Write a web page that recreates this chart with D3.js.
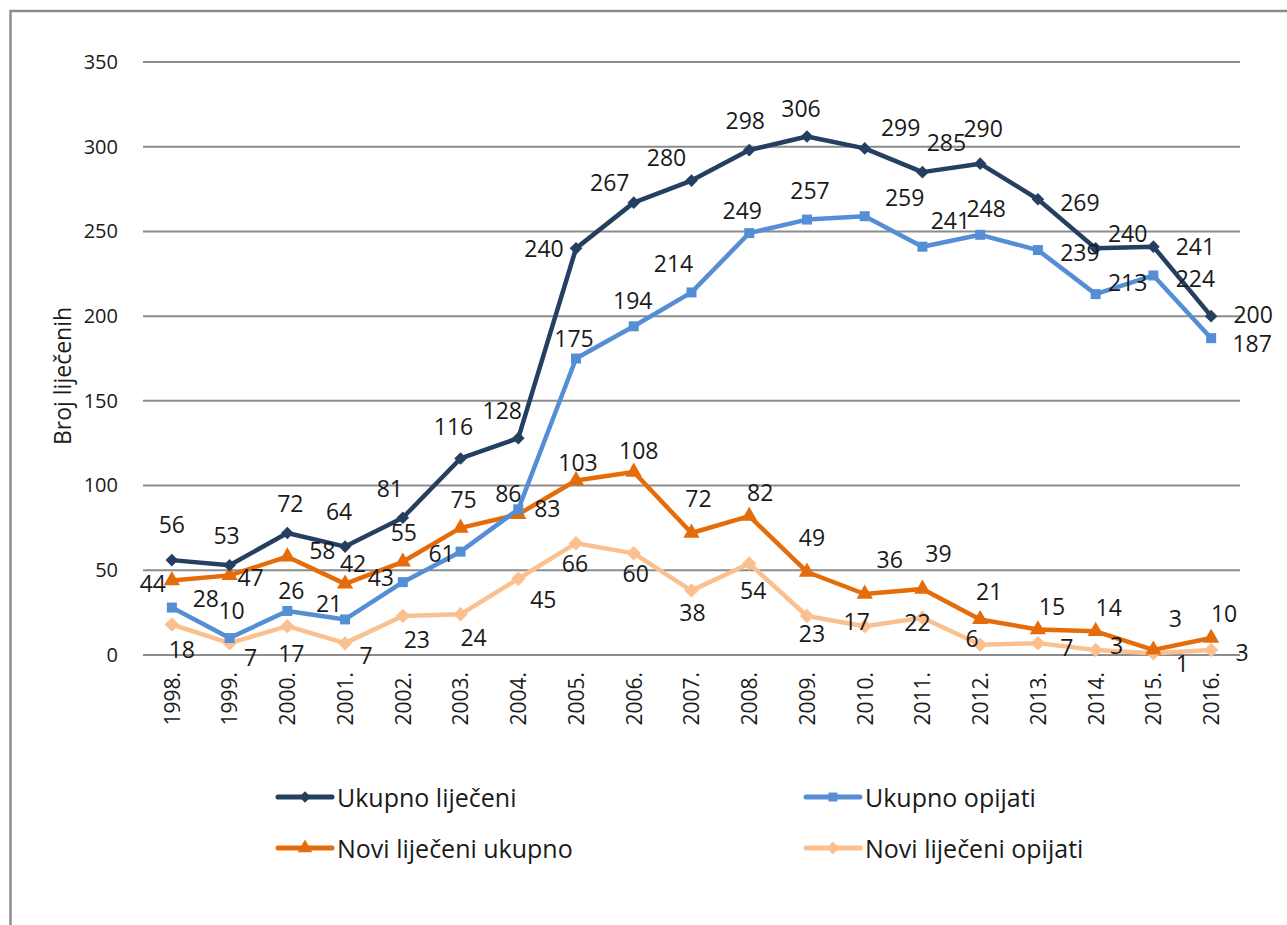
<!DOCTYPE html>
<html>
<head>
<meta charset="utf-8">
<script src="https://cdn.jsdelivr.net/npm/d3@7"></script>
<style>
  body { margin: 0; background: #fff; }
  text { font-family: "Open Sans", sans-serif; fill: #1a1a1a; }
</style>
</head>
<body>
<svg id="chart"></svg>
<script>
// data
let years = ["1998.", "1999.", "2000.", "2001.", "2002.", "2003.", "2004.", "2005.", "2006.", "2007.",
             "2008.", "2009.", "2010.", "2011.", "2012.", "2013.", "2014.", "2015.", "2016."];
let ukupnoLijeceni = [56, 53, 72, 64, 81, 116, 128, 240, 267, 280, 298, 306, 299, 285, 290, 269, 240, 241, 200];
let ukupnoOpijati  = [28, 10, 26, 21, 43, 61, 86, 175, 194, 214, 249, 257, 259, 241, 248, 239, 213, 224, 187];
let noviUkupno     = [44, 47, 58, 42, 55, 75, 83, 103, 108, 72, 82, 49, 36, 39, 21, 15, 14, 3, 10];
let noviOpijati    = [18, 7, 17, 7, 23, 24, 45, 66, 60, 38, 54, 23, 17, 22, 6, 7, 3, 1, 3];
let yTicks = [0, 50, 100, 150, 200, 250, 300, 350];

// label nudges (px) - excel put these all over the place
let darkLabelDx = [0, -3, 3, -6, -13, -7, -16, -32, -24, -25, -4, -6, 36, 24, 3, 42, 32, 42, 42];
let darkLabelDy = [-36, -30, -30, -36, -30, -32, -28, 0, -21, -24, -30, -29, -21, -30, -36, 3, -15, -1, -2];
let blueLabelDx = [34, 2, 4, -16, -22, -19, -10, -2, -1, -18, -7, 3, 40, 28, 6, 42, 32, 42, 41];
let blueLabelDy = [-10, -28, -21, -16, -5, 1, -16, -21, -26, -29, -23, -30, -19, -27, -27, 2, -12, 3, 5];
let orangeLabelDx = [-19, 21, 35, 8, 1, 3, 29, 2, 5, 7, 11, 5, 25, 16, 9, 14, 13, 22, 13];
let orangeLabelDy = [3, 2, -7, -21, -30, -29, -6, -18, -22, -35, -24, -35, -35, -36, -28, -24, -24, -32, -25];
let peachLabelDx = [10, 21, 4, 21, 14, 13, 25, -1, 2, 1, 4, 5, -8, -5, -8, 29, 21, 29, 31];
let peachLabelDy = [24, 14, 27, 12, 23, 23, 20, 20, 20, 21, 26, 17, -5, 4, -7, 4, -5, 10, 2];

let width = 1287, height = 925;
let plot = {left: 143, right: 1240, top: 62, bottom: 655};

let svg = d3.select("#chart")
  .attr("width", width)
  .attr("height", height);

// outer frame (right and bottom edge fall off the picture)
svg.append("path")
  .attr("d", "M10.5," + (height + 5) + " V11 H" + (width + 5))
  .attr("fill", "none")
  .attr("stroke", "#8c8c8c")
  .attr("stroke-width", 2.5)

let x = d3.scalePoint()
  .domain(years)
  .range([plot.left, plot.right])
  .padding(0.5);

let y = d3.scaleLinear()
  .domain([0, 350])
  .range([plot.bottom, plot.top]);

// gridlines
svg.append("g")
  .selectAll("line")
  .data(yTicks)
  .enter()
  .append("line")
  .attr("x1", plot.left)
  .attr("x2", plot.right)
  .attr("y1", d => y(d))
  .attr("y2", d => y(d))
  .attr("stroke", "#8c8c8c")
  .attr("stroke-width", 2)

// y axis labels
let yAxis = svg.append("g")
  .attr("transform", "translate(" + (plot.left - 25) + ",0)")
  .call(d3.axisLeft(y).tickValues(yTicks).tickSize(0).tickPadding(0));
yAxis.select(".domain").remove();
yAxis.selectAll("text")
  .attr("font-size", 20)
  .style("font-family", "Open Sans")
  .attr("fill", "#1a1a1a")

// x axis labels, rotated
let xAxis = svg.append("g")
  .attr("transform", "translate(0," + plot.bottom + ")")
  .call(d3.axisBottom(x).tickSize(0).tickPadding(0));
xAxis.select(".domain").remove();
xAxis.selectAll("text")
  .attr("font-size", 21)
  .style("font-family", "Open Sans")
  .attr("fill", "#1a1a1a")
  .attr("transform", "rotate(-90)")
  .attr("text-anchor", "end")
  .attr("dy", "0.35em")
  .attr("x", -17)
  .attr("y", 0)

svg.append("text")
  .attr("transform", "translate(62,376) rotate(-90)")
  .attr("text-anchor", "middle")
  .attr("dominant-baseline", "central")
  .attr("font-size", 23)
  .text("Broj liječenih")

// series setup
let diamond = {type: d3.symbolSquare, rotate: 45};
let square = {type: d3.symbolSquare, rotate: 0};
let triangle = {type: d3.symbolTriangle, rotate: 0};

let series = [
  {name: "Ukupno liječeni", values: ukupnoLijeceni, color: "#243f60", marker: diamond, size: 80,
   dx: darkLabelDx, dy: darkLabelDy},
  {name: "Ukupno opijati", values: ukupnoOpijati, color: "#558ed5", marker: square, size: 100,
   dx: blueLabelDx, dy: blueLabelDy},
  {name: "Novi liječeni ukupno", values: noviUkupno, color: "#e46c0a", marker: triangle, size: 115,
   dx: orangeLabelDx, dy: orangeLabelDy},
  {name: "Novi liječeni opijati", values: noviOpijati, color: "#fac090", marker: diamond, size: 105,
   dx: peachLabelDx, dy: peachLabelDy}
];

let line = d3.line()
  .x((d, i) => x(years[i]))
  .y(d => y(d));

// draw back to front so the dark line sits on top
series.slice().reverse().forEach(function(s) {
  let g = svg.append("g");
  g.append("path")
    .attr("d", line(s.values))
    .attr("fill", "none")
    .attr("stroke", s.color)
    .attr("stroke-width", 4.5)
    .attr("stroke-linejoin", "round")

  g.selectAll("path.mark")
    .data(s.values)
    .enter()
    .append("path")
    .attr("class", "mark")
    .attr("d", d3.symbol().type(s.marker.type).size(s.size))
    .attr("transform", (d, i) => "translate(" + x(years[i]) + "," + y(d) + ") rotate(" + s.marker.rotate + ")")
    .attr("fill", s.color)
});

// data labels on top of everything
series.forEach(function(s) {
  svg.append("g")
    .selectAll("text")
    .data(s.values)
    .enter()
    .append("text")
    .attr("x", (d, i) => x(years[i]) + s.dx[i])
    .attr("y", (d, i) => y(d) + s.dy[i])
    .attr("text-anchor", "middle")
    .attr("dominant-baseline", "central")
    .attr("font-size", 23)
    .text(d => d)
});

// LEGEND
let legendPos = [
  {x: 278, y: 797}, {x: 806, y: 797},
  {x: 278, y: 848}, {x: 806, y: 848}
];

series.forEach(function(s, i) {
  let p = legendPos[i];
  let lg = svg.append("g").attr("transform", "translate(" + p.x + "," + p.y + ")");
  lg.append("line")
    .attr("x1", 0).attr("x2", 54)
    .attr("stroke", s.color)
    .attr("stroke-width", 5)
    .attr("stroke-linecap", "round")
  lg.append("path")
    .attr("d", d3.symbol().type(s.marker.type).size(s.size * 0.8))
    .attr("transform", "translate(27,0) rotate(" + s.marker.rotate + ")")
    .attr("fill", s.color)
  lg.append("text")
    .attr("x", 59)
    .attr("dominant-baseline", "central")
    .attr("font-size", 25)
    .text(s.name)
});
</script>
</body>
</html>
